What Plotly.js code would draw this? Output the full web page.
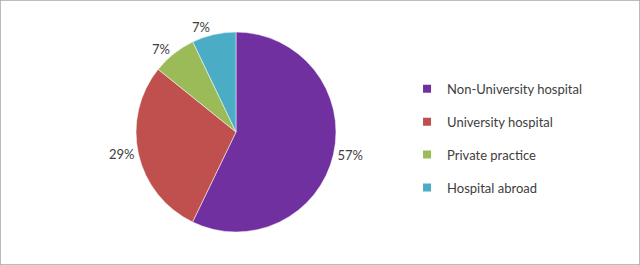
<!DOCTYPE html>
<html>
<head>
<meta charset="utf-8">
<script src="https://cdn.plot.ly/plotly-3.0.1.min.js"></script>
<style>
html,body{margin:0;padding:0;background:#fff;}
#chart{width:640px;height:265px;}
</style>
</head>
<body>
<div id="chart"></div>
<script>
const categories = ["Non-University hospital", "University hospital", "Private practice", "Hospital abroad"];
const shares = [57.1, 28.6, 7.1, 7.1];
const colors = ["#7030A0", "#C0504D", "#9BBB59", "#4BACC6"];

const pie = {
  type: "pie",
  labels: categories,
  values: shares,
  sort: false,
  direction: "clockwise",
  rotation: 0,
  marker: {colors: colors, line: {color: "#ffffff", width: 0.5}},
  textinfo: "percent",
  texttemplate: "%{percent:.0%}",
  textposition: "outside",
  outsidetextfont: {family: "Lato, 'Open Sans', sans-serif", size: 13, color: "#404040"},
  showlegend: false,
  automargin: false,
  hoverinfo: "label+percent",
  domain: {x: [0.2125, 0.525], y: [0.1245, 0.879]}
};

// legend entries (one per category) so the spacing between items can be set
const legendTraces = categories.map((c, i) => ({
  type: "scatter",
  mode: "markers",
  x: [null], y: [null],
  name: c,
  legendgroup: "g" + i,
  marker: {symbol: "square", size: 8, color: colors[i]},
  hoverinfo: "skip"
}));

const layout = {
  width: 640, height: 265,
  margin: {l: 0, r: 0, t: 0, b: 0},
  paper_bgcolor: "#ffffff",
  plot_bgcolor: "#ffffff",
  xaxis: {visible: false},
  yaxis: {visible: false},
  showlegend: true,
  legend: {
    x: 0.636, y: 0.478, xanchor: "left", yanchor: "middle",
    font: {family: "Lato, 'Open Sans', sans-serif", size: 13, color: "#404040"},
    tracegroupgap: 13,
    itemwidth: 30,
    bgcolor: "rgba(0,0,0,0)"
  },
  shapes: [{
    type: "rect", xref: "paper", yref: "paper",
    x0: 0, x1: 1, y0: 0, y1: 1,
    line: {color: "#A6A6A6", width: 1.5}
  }]
};

Plotly.newPlot("chart", [pie].concat(legendTraces), layout, {staticPlot: true, displayModeBar: false});
</script>
</body>
</html>
